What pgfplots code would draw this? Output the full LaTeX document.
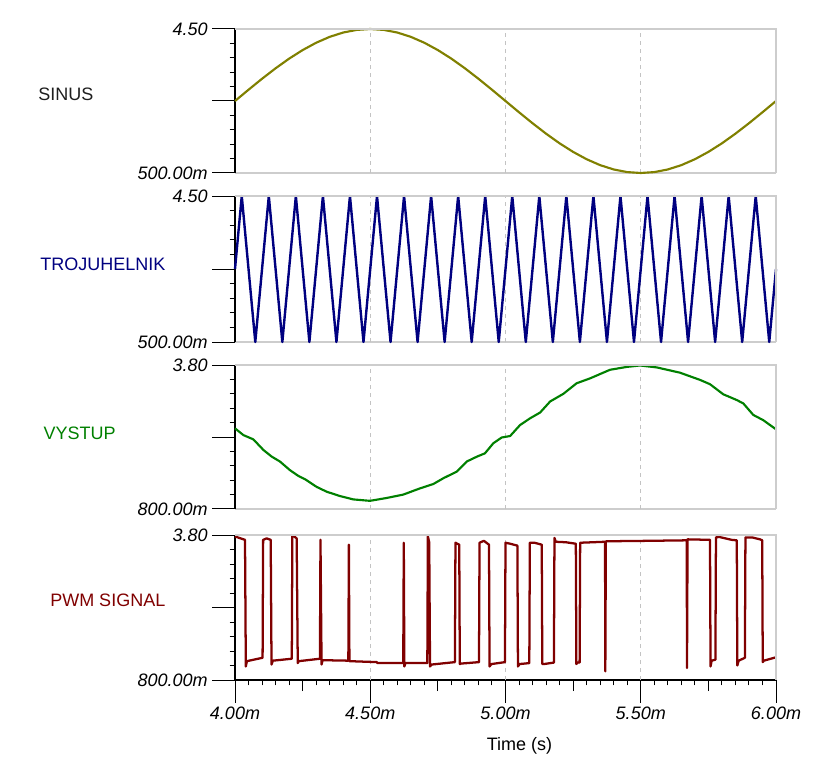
\documentclass[border=0pt]{standalone}
\usepackage{pgfplots}
\pgfplotsset{compat=1.18}
\usepackage{fontspec}
\setmainfont{Liberation Sans}
\definecolor{sinc}{RGB}{128,128,0}
\definecolor{tric}{RGB}{0,0,128}
\definecolor{vysc}{RGB}{0,128,0}
\definecolor{pwmc}{RGB}{128,0,0}
\definecolor{framec}{RGB}{205,205,205}
\definecolor{gridc}{RGB}{195,195,195}
\newcommand{\lblfont}{\fontsize{13.5}{16}\selectfont}
\tikzset{gridl/.style={gridc, dash pattern=on 3pt off 3pt, line width=0.6pt}}
\pgfplotsset{
  panel/.style={
    scale only axis, width=405.75pt, xmin=4, xmax=6, clip=false,
    axis lines*=left,
    y axis line style={black, line width=1pt},
    x axis line style={framec, line width=0.8pt},
    tick align=outside,
    major tick length=17pt, minor tick length=4pt,
    every tick/.style={black, line width=0.75pt},
    minor y tick num=4,
    xtick=\empty,
    tick label style={font=\lblfont\itshape},
    /pgf/number format/assume math mode=true,
    after end axis/.code={
      \draw[framec, line width=0.8pt] (rel axis cs:0,1) -- (rel axis cs:1,1) -- (rel axis cs:1,0);
    },
  },
  curve/.style={line width=1.6pt, line join=round, mark=none},
}
\begin{document}
\begin{tikzpicture}
\path[use as bounding box] (0,0) rectangle (615.75pt,-570pt);

% SINUS
\begin{axis}[panel, at={(176.25pt,-21.75pt)}, anchor=north west, height=108pt,
  ymin=0.5, ymax=4.5, ytick={0.5,2.5,4.5}, yticklabels={500.00m,{},4.50}]
\draw[gridl] (axis cs:4.5,0.5) -- (axis cs:4.5,4.5);
\draw[gridl] (axis cs:5.0,0.5) -- (axis cs:5.0,4.5);
\draw[gridl] (axis cs:5.5,0.5) -- (axis cs:5.5,4.5);
\addplot[curve, sinc] coordinates {
(4.00,2.500) (4.05,2.813) (4.10,3.118) (4.15,3.408) (4.20,3.676) (4.25,3.914)
(4.30,4.118) (4.35,4.282) (4.40,4.402) (4.45,4.475) (4.50,4.500) (4.55,4.475)
(4.60,4.402) (4.65,4.282) (4.70,4.118) (4.75,3.914) (4.80,3.676) (4.85,3.408)
(4.90,3.118) (4.95,2.813) (5.00,2.500) (5.05,2.187) (5.10,1.882) (5.15,1.592)
(5.20,1.324) (5.25,1.086) (5.30,0.882) (5.35,0.718) (5.40,0.598) (5.45,0.525)
(5.50,0.500) (5.55,0.525) (5.60,0.598) (5.65,0.718) (5.70,0.882) (5.75,1.086)
(5.80,1.324) (5.85,1.592) (5.90,1.882) (5.95,2.187) (6.00,2.500)};
\end{axis}

% TROJUHELNIK
\begin{axis}[panel, at={(176.25pt,-147pt)}, anchor=north west, height=109.5pt,
  ymin=0.5, ymax=4.5, ytick={0.5,2.5,4.5}, yticklabels={500.00m,{},4.50}]
\draw[gridl] (axis cs:4.5,0.5) -- (axis cs:4.5,4.5);
\draw[gridl] (axis cs:5.0,0.5) -- (axis cs:5.0,4.5);
\draw[gridl] (axis cs:5.5,0.5) -- (axis cs:5.5,4.5);
\addplot[curve, tric, line width=1.8pt] coordinates {
(4.000,2.5)
(4.025,4.5) (4.075,0.5) (4.125,4.5) (4.175,0.5) (4.225,4.5) (4.275,0.5)
(4.325,4.5) (4.375,0.5) (4.425,4.5) (4.475,0.5) (4.525,4.5) (4.575,0.5)
(4.625,4.5) (4.675,0.5) (4.725,4.5) (4.775,0.5) (4.825,4.5) (4.875,0.5)
(4.925,4.5) (4.975,0.5) (5.025,4.5) (5.075,0.5) (5.125,4.5) (5.175,0.5)
(5.225,4.5) (5.275,0.5) (5.325,4.5) (5.375,0.5) (5.425,4.5) (5.475,0.5)
(5.525,4.5) (5.575,0.5) (5.625,4.5) (5.675,0.5) (5.725,4.5) (5.775,0.5)
(5.825,4.5) (5.875,0.5) (5.925,4.5) (5.975,0.5)
(6.000,2.5)};
\end{axis}

% VYSTUP
\begin{axis}[panel, at={(176.25pt,-273.75pt)}, anchor=north west, height=108pt,
  ymin=0.8, ymax=3.8, ytick={0.8,2.3,3.8}, yticklabels={800.00m,{},3.80}]
\draw[gridl] (axis cs:4.5,0.8) -- (axis cs:4.5,3.8);
\draw[gridl] (axis cs:5.0,0.8) -- (axis cs:5.0,3.8);
\draw[gridl] (axis cs:5.5,0.8) -- (axis cs:5.5,3.8);
\addplot[curve, vysc] coordinates {
(4.000,2.48) (4.031,2.34) (4.068,2.25) (4.105,2.03) (4.136,1.89) (4.166,1.79)
(4.203,1.61) (4.234,1.49) (4.259,1.42) (4.302,1.26) (4.339,1.16) (4.388,1.07)
(4.437,1.00) (4.499,0.97) (4.561,1.03) (4.622,1.10) (4.684,1.23) (4.733,1.32)
(4.770,1.44) (4.820,1.58) (4.857,1.79) (4.894,1.89) (4.924,1.96) (4.955,2.17)
(4.986,2.29) (5.017,2.32) (5.054,2.55) (5.091,2.69) (5.128,2.81) (5.165,3.04)
(5.214,3.20) (5.263,3.42) (5.312,3.52) (5.386,3.70) (5.448,3.76) (5.497,3.79)
(5.559,3.75) (5.645,3.64) (5.719,3.49) (5.756,3.40) (5.805,3.19) (5.855,3.07)
(5.879,3.00) (5.916,2.76) (5.953,2.65) (6.000,2.46)};
\end{axis}

% PWM SIGNAL
\begin{axis}[panel, at={(176.25pt,-401.25pt)}, anchor=north west, height=108.75pt,
  ymin=0.8, ymax=3.8, ytick={0.8,2.3,3.8}, yticklabels={800.00m,{},3.80},
  x axis line style={black, line width=1pt},
  xtick={4,4.5,5,5.5,6}, xticklabels={4.00m,4.50m,5.00m,5.50m,6.00m},
  minor x tick num=9,
  extra x ticks={4.25,4.75,5.25,5.75}, extra x tick labels={},
  extra x tick style={major tick length=8.25pt},
  xlabel={Time (s)},
  xlabel style={font=\lblfont, at={(rel axis cs:0.5,0)}, anchor=center, xshift=10.5pt, yshift=-49.5pt}]
\draw[gridl] (axis cs:4.5,0.8) -- (axis cs:4.5,3.8);
\draw[gridl] (axis cs:5.0,0.8) -- (axis cs:5.0,3.8);
\draw[gridl] (axis cs:5.5,0.8) -- (axis cs:5.5,3.8);
\addplot[curve, pwmc, line width=1.7pt, line join=round] coordinates {
(4.000,3.77) (4.037,3.70) (4.040,1.08) (4.044,1.19) (4.102,1.26) (4.104,3.70)
(4.117,3.73) (4.132,3.70) (4.135,1.12) (4.140,1.20) (4.210,1.24) (4.212,3.80)
(4.228,3.73) (4.232,1.15) (4.236,1.19) (4.314,1.24) (4.316,3.70) (4.320,1.12)
(4.324,1.21) (4.419,1.20) (4.421,3.60) (4.423,1.19) (4.524,1.17) (4.527,1.15)
(4.622,1.15) (4.624,3.64) (4.626,1.08) (4.630,1.15) (4.711,1.15) (4.713,3.77)
(4.718,3.65) (4.721,1.08) (4.727,1.12) (4.813,1.17) (4.815,3.64) (4.829,3.60)
(4.831,1.13) (4.836,1.14) (4.902,1.17) (4.904,3.64) (4.920,3.68) (4.939,3.60)
(4.941,1.08) (4.948,1.13) (4.998,1.17) (5.000,3.64) (5.017,3.62) (5.044,3.58)
(5.046,1.08) (5.052,1.13) (5.088,1.15) (5.090,3.64) (5.107,3.64) (5.134,3.60)
(5.136,1.13) (5.142,1.13) (5.179,1.16) (5.181,3.74) (5.186,3.66) (5.223,3.65)
(5.260,3.62) (5.262,1.13) (5.266,1.16) (5.274,1.16) (5.276,3.64) (5.368,3.66)
(5.369,0.98) (5.371,3.67) (5.534,3.68) (5.670,3.69) (5.671,1.05) (5.673,3.71)
(5.756,3.70) (5.758,1.08) (5.762,1.20) (5.776,1.22) (5.778,3.75) (5.790,3.76)
(5.836,3.70) (5.855,3.69) (5.857,1.10) (5.862,1.20) (5.885,1.26) (5.887,3.75)
(5.912,3.75) (5.941,3.71) (5.949,3.69) (5.951,1.17) (5.955,1.20) (6.000,1.27)};
\end{axis}

% series names
\node[anchor=west, inner sep=0pt, font=\lblfont, text={rgb,255:red,30;green,30;blue,30}] at (28.5pt,-70.5pt) {SINUS};
\node[anchor=west, inner sep=0pt, font=\lblfont, text=tric] at (30pt,-198pt) {TROJUHELNIK};
\node[anchor=west, inner sep=0pt, font=\lblfont, text=vysc] at (32.5pt,-325pt) {VYSTUP};
\node[anchor=west, inner sep=0pt, font=\lblfont, text=pwmc] at (37.5pt,-450pt) {PWM SIGNAL};
\end{tikzpicture}
\end{document}
